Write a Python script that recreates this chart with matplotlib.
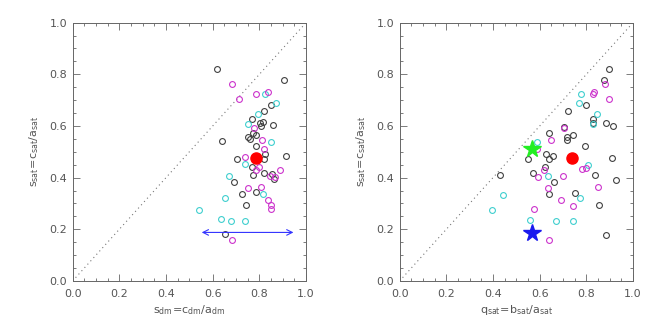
import matplotlib
matplotlib.use("Agg")
import matplotlib.pyplot as plt
from matplotlib.ticker import MultipleLocator

# ---------------- data ----------------
# Left panel: s_dm vs s_sat
L_black_x = [0.617, 0.904, 0.850, 0.820, 0.767, 0.803, 0.816, 0.807, 0.859, 0.771, 0.786, 0.753, 0.760,
             0.639, 0.784, 0.824, 0.821, 0.913, 0.703, 0.767, 0.773, 0.819, 0.853, 0.864, 0.693, 0.724,
             0.786, 0.743, 0.653]
L_black_y = [0.820, 0.778, 0.680, 0.658, 0.626, 0.613, 0.616, 0.600, 0.603, 0.572, 0.565, 0.559, 0.548,
             0.543, 0.523, 0.490, 0.472, 0.484, 0.472, 0.441, 0.410, 0.418, 0.413, 0.394, 0.385, 0.337,
             0.343, 0.295, 0.181]
L_cyan_x = [0.824, 0.870, 0.793, 0.750, 0.850, 0.739, 0.670, 0.817, 0.653, 0.543, 0.636, 0.679, 0.737]
L_cyan_y = [0.724, 0.688, 0.647, 0.609, 0.537, 0.452, 0.406, 0.336, 0.321, 0.274, 0.239, 0.232, 0.232]
L_mag_x = [0.684, 0.713, 0.784, 0.838, 0.778, 0.810, 0.821, 0.739, 0.799, 0.784, 0.890, 0.847, 0.867,
           0.753, 0.807, 0.836, 0.849, 0.851, 0.683]
L_mag_y = [0.762, 0.705, 0.724, 0.733, 0.592, 0.544, 0.512, 0.480, 0.440, 0.431, 0.431, 0.408, 0.403,
           0.361, 0.363, 0.314, 0.293, 0.279, 0.159]
L_red = (0.786, 0.477)
L_arrow_x = [0.553, 0.946]
L_arrow_y = 0.188

# Right panel: q_sat vs s_sat
R_black_x = [0.898, 0.876, 0.799, 0.723, 0.830, 0.829, 0.884, 0.913, 0.703, 0.639, 0.741, 0.718, 0.716,
             0.796, 0.626, 0.656, 0.640, 0.549, 0.909, 0.621, 0.570, 0.430, 0.837, 0.928, 0.660, 0.753,
             0.640, 0.856, 0.884]
R_black_y = [0.820, 0.778, 0.680, 0.658, 0.626, 0.610, 0.610, 0.600, 0.595, 0.572, 0.566, 0.559, 0.546,
             0.523, 0.492, 0.484, 0.471, 0.471, 0.476, 0.443, 0.419, 0.412, 0.410, 0.391, 0.383, 0.341,
             0.336, 0.295, 0.179]
R_cyan_x = [0.777, 0.769, 0.844, 0.830, 0.587, 0.806, 0.636, 0.443, 0.771, 0.396, 0.557, 0.669, 0.743]
R_cyan_y = [0.725, 0.689, 0.648, 0.609, 0.537, 0.449, 0.406, 0.334, 0.320, 0.274, 0.237, 0.232, 0.232]
R_mag_x = [0.881, 0.897, 0.827, 0.831, 0.706, 0.647, 0.587, 0.748, 0.780, 0.797, 0.618, 0.593, 0.700,
           0.637, 0.851, 0.691, 0.741, 0.577, 0.640]
R_mag_y = [0.762, 0.705, 0.725, 0.733, 0.592, 0.546, 0.512, 0.480, 0.432, 0.437, 0.430, 0.404, 0.406,
           0.361, 0.363, 0.314, 0.292, 0.279, 0.159]
R_red = (0.740, 0.477)
R_green_star = (0.566, 0.510)
R_blue_star = (0.566, 0.187)

ticks = [0.0, 0.2, 0.4, 0.6, 0.8, 1.0]
tick_labels = ["0.0", "0.2", "0.4", "0.6", "0.8", "1.0"]

# ---------------- style ----------------
TXT = "#555555"
FRAME = "#666666"
BLACK = "#404040"
CYAN = "#3fcfcf"
MAG = "#cc33cc"

fig = plt.figure(figsize=(6.54, 3.27), dpi=100)
axL = fig.add_axes([0.111, 0.1407, 0.357, 0.79])
axR = fig.add_axes([0.611, 0.1407, 0.357, 0.79])


def style(ax, xlabel):
    ax.set_xlim(0, 1)
    ax.set_ylim(0, 1)
    ax.set_xticks(ticks)
    ax.set_xticklabels(tick_labels)
    ax.set_yticks(ticks)
    ax.set_yticklabels(tick_labels)
    ax.xaxis.set_minor_locator(MultipleLocator(0.05))
    ax.yaxis.set_minor_locator(MultipleLocator(0.05))
    ax.tick_params(which="both", direction="in", top=True, right=True, color=FRAME, width=0.6)
    ax.tick_params(which="major", length=5, labelsize=8, labelcolor=TXT)
    ax.tick_params(which="minor", length=2.5)
    ax.tick_params(axis="x", which="major", pad=6)
    ax.tick_params(axis="y", which="major", pad=4)
    for s in ax.spines.values():
        s.set_color(FRAME)
        s.set_linewidth(0.7)
    ax.plot([0, 1], [0, 1], color="#777777", lw=0.8, dashes=(1, 3))
    ax.set_xlabel(xlabel, fontsize=8, color=TXT, labelpad=3)
    ax.set_ylabel(r"$\mathrm{s_{sat}\!=\!c_{sat}/a_{sat}}$", fontsize=8, color=TXT, labelpad=6)


ms = 4.2
mew = 0.8
style(axL, r"$\mathrm{s_{dm}\!=\!c_{dm}/a_{dm}}$")
axL.plot(L_black_x, L_black_y, "o", mfc="none", mec=BLACK, ms=ms, mew=mew)
axL.plot(L_cyan_x, L_cyan_y, "o", mfc="none", mec=CYAN, ms=ms, mew=mew)
axL.plot(L_mag_x, L_mag_y, "o", mfc="none", mec=MAG, ms=ms, mew=mew)
axL.plot([L_red[0]], [L_red[1]], "o", color="red", ms=8)
axL.annotate("", xy=(L_arrow_x[1], L_arrow_y), xytext=(L_arrow_x[0], L_arrow_y),
             arrowprops=dict(arrowstyle="<->", color="#3333ff", lw=0.8, shrinkA=0, shrinkB=0))

style(axR, r"$\mathrm{q_{sat}\!=\!b_{sat}/a_{sat}}$")
axR.plot(R_black_x, R_black_y, "o", mfc="none", mec=BLACK, ms=ms, mew=mew)
axR.plot(R_cyan_x, R_cyan_y, "o", mfc="none", mec=CYAN, ms=ms, mew=mew)
axR.plot(R_mag_x, R_mag_y, "o", mfc="none", mec=MAG, ms=ms, mew=mew)
axR.plot([R_red[0]], [R_red[1]], "o", color="red", ms=8)
axR.plot([R_green_star[0]], [R_green_star[1]], "*", color="#22ee22", ms=13)
axR.plot([R_blue_star[0]], [R_blue_star[1]], "*", color="#1a1aee", ms=13)

fig.savefig("out.png", dpi=100)
